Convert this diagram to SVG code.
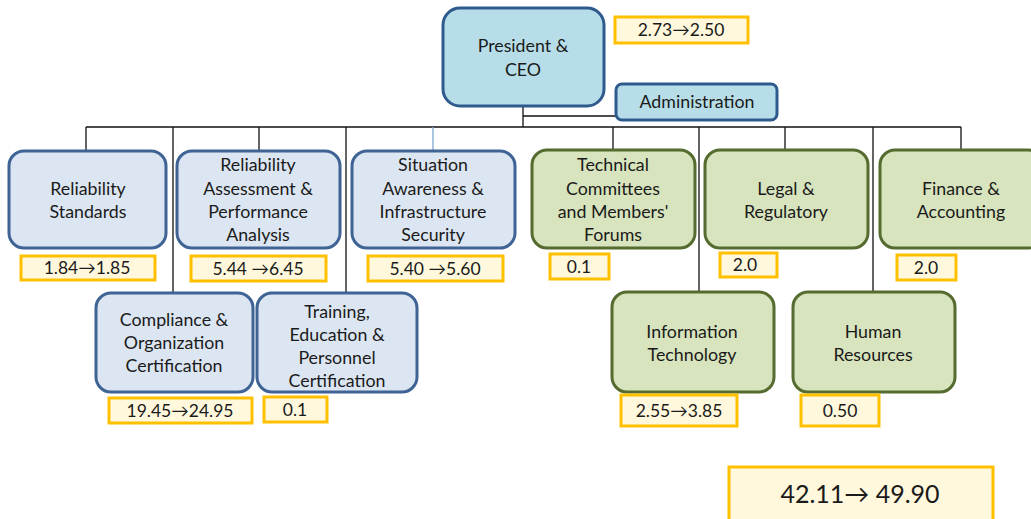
<svg xmlns="http://www.w3.org/2000/svg" width="1031" height="519" viewBox="0 0 1031 519">
  <style>
    .t { font-family: Lato, "Liberation Sans", sans-serif; font-size: 17.8px; fill: #1a1a1a; text-anchor: middle; }
    .n { font-family: Lato, "Liberation Sans", sans-serif; font-size: 17.5px; fill: #1a1a1a; text-anchor: middle; }
    .blue { fill: #DCE6F2; stroke: #3E6394; stroke-width: 3; }
    .ceo { fill: #B7DEE8; stroke: #2E5A8E; stroke-width: 3; }
    .green { fill: #D7E4BD; stroke: #556B2F; stroke-width: 3; }
    .tag { fill: #FFF8DC; stroke: #FFC000; stroke-width: 3; }
    .ln { stroke: #111; stroke-width: 1.3; fill: none; }
  </style>
  <rect width="1031" height="519" fill="#fff"/>

  <!-- connectors -->
  <g id="connectors">
    <line class="ln" x1="523" y1="106" x2="523" y2="127" stroke-width="2.5"/>
    <line class="ln" x1="523" y1="116" x2="615" y2="116"/>
    <line class="ln" x1="86" y1="127" x2="961" y2="127"/>
    <line class="ln" x1="86" y1="127" x2="86" y2="151"/>
    <line class="ln" x1="173" y1="127" x2="173" y2="293"/>
    <line class="ln" x1="259" y1="127" x2="259" y2="151"/>
    <line class="ln" x1="346" y1="127" x2="346" y2="293"/>
    <line x1="433" y1="127" x2="433" y2="151" stroke="#7FA6D2" stroke-width="1.3"/>
    <line class="ln" x1="613" y1="127" x2="613" y2="151"/>
    <line class="ln" x1="699" y1="127" x2="699" y2="293"/>
    <line class="ln" x1="785" y1="127" x2="785" y2="151"/>
    <line class="ln" x1="873" y1="127" x2="873" y2="293"/>
    <line class="ln" x1="961" y1="127" x2="961" y2="151"/>
  </g>

  <g id="president">
    <rect class="ceo" x="443" y="8" width="161" height="98" rx="17"/>
    <text class="t" x="523" y="52">President &amp;</text>
    <text class="t" x="523" y="76">CEO</text>
    <rect class="tag" x="615" y="17" width="133" height="26"/>
    <text class="n" x="681" y="36">2.73→2.50</text>
  </g>

  <g id="administration">
    <rect class="ceo" x="616" y="84" width="161" height="36" rx="6"/>
    <text class="t" x="697" y="108">Administration</text>
  </g>

  <g id="reliability-standards">
    <rect class="blue" x="9" y="151" width="157" height="97" rx="15"/>
    <text class="t" x="88" y="195">Reliability</text>
    <text class="t" x="88" y="218">Standards</text>
    <rect class="tag" x="21" y="256" width="134" height="24"/>
    <text class="n" x="87" y="274">1.84→1.85</text>
  </g>

  <g id="reliability-assessment">
    <rect class="blue" x="177" y="151" width="163" height="97" rx="15"/>
    <text class="t" x="258" y="171">Reliability</text>
    <text class="t" x="258" y="195">Assessment &amp;</text>
    <text class="t" x="258" y="218">Performance</text>
    <text class="t" x="258" y="241">Analysis</text>
    <rect class="tag" x="191" y="256" width="135" height="25"/>
    <text class="n" x="258" y="275">5.44 →6.45</text>
  </g>

  <g id="situation-awareness">
    <rect class="blue" x="352" y="151" width="163" height="97" rx="15"/>
    <text class="t" x="433" y="171">Situation</text>
    <text class="t" x="433" y="195">Awareness &amp;</text>
    <text class="t" x="433" y="218">Infrastructure</text>
    <text class="t" x="433" y="241">Security</text>
    <rect class="tag" x="368" y="256" width="135" height="25"/>
    <text class="n" x="435" y="275">5.40 →5.60</text>
  </g>

  <g id="technical-committees">
    <rect class="green" x="532" y="150" width="163" height="98" rx="15"/>
    <text class="t" x="613" y="171">Technical</text>
    <text class="t" x="613" y="195">Committees</text>
    <text class="t" x="613" y="218">and Members'</text>
    <text class="t" x="613" y="241">Forums</text>
    <rect class="tag" x="550" y="254" width="59" height="25"/>
    <text class="n" x="579" y="273">0.1</text>
  </g>

  <g id="legal-regulatory">
    <rect class="green" x="705" y="150" width="163" height="98" rx="15"/>
    <text class="t" x="786" y="195">Legal &amp;</text>
    <text class="t" x="786" y="218">Regulatory</text>
    <rect class="tag" x="720" y="253" width="57" height="24"/>
    <text class="n" x="745" y="271">2.0</text>
  </g>

  <g id="finance-accounting">
    <rect class="green" x="880" y="150" width="163" height="98" rx="15"/>
    <text class="t" x="961" y="195">Finance &amp;</text>
    <text class="t" x="961" y="218">Accounting</text>
    <rect class="tag" x="897" y="255" width="59" height="25"/>
    <text class="n" x="926" y="274">2.0</text>
  </g>

  <g id="compliance-certification">
    <rect class="blue" x="96" y="293" width="157" height="99" rx="15"/>
    <text class="t" x="174" y="326">Compliance &amp;</text>
    <text class="t" x="174" y="349">Organization</text>
    <text class="t" x="174" y="372">Certification</text>
    <rect class="tag" x="109" y="398" width="143" height="25"/>
    <text class="n" x="180" y="417">19.45→24.95</text>
  </g>

  <g id="training-education">
    <rect class="blue" x="257" y="293" width="160" height="99" rx="15"/>
    <text class="t" x="337" y="318">Training,</text>
    <text class="t" x="337" y="341">Education &amp;</text>
    <text class="t" x="337" y="364">Personnel</text>
    <text class="t" x="337" y="387">Certification</text>
    <rect class="tag" x="264" y="397" width="63" height="25"/>
    <text class="n" x="295" y="416">0.1</text>
  </g>

  <g id="information-technology">
    <rect class="green" x="612" y="292" width="162" height="100" rx="15"/>
    <text class="t" x="692" y="338">Information</text>
    <text class="t" x="692" y="361">Technology</text>
    <rect class="tag" x="621" y="395" width="116" height="31"/>
    <text class="n" x="679" y="417">2.55→3.85</text>
  </g>

  <g id="human-resources">
    <rect class="green" x="793" y="292" width="162" height="100" rx="15"/>
    <text class="t" x="873" y="338">Human</text>
    <text class="t" x="873" y="361">Resources</text>
    <rect class="tag" x="801" y="395" width="78" height="31"/>
    <text class="n" x="840" y="417">0.50</text>
  </g>

  <g id="total">
    <rect class="tag" x="729" y="467" width="264" height="56"/>
    <text class="n" x="860" y="503" style="font-size:25px">42.11→ 49.90</text>
  </g>
</svg>
